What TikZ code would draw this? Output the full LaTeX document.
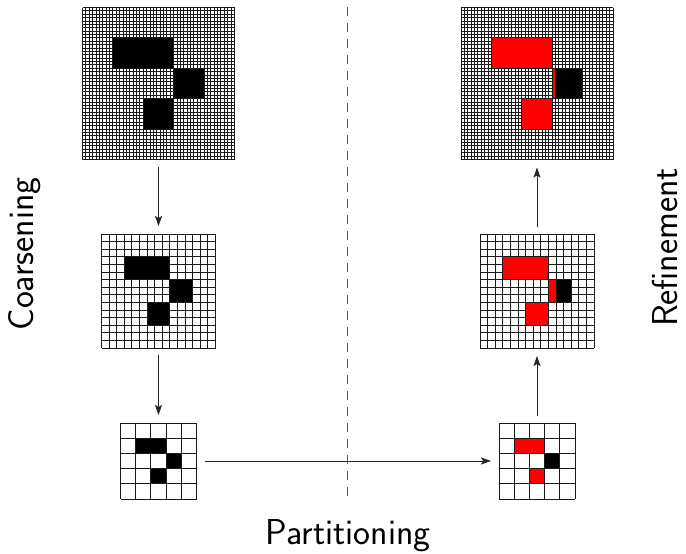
\documentclass[tikz,border=0pt]{standalone}
\usetikzlibrary{arrows.meta}
\tikzset{
  gridnode/.style={draw=none,inner sep=0pt,outer sep=0pt,minimum size=#1},
  gl/.style={line width=1pt,black!90},
  cellbox/.style={line width=1pt,draw=black!90},
  arr/.style={line width=0.9pt,black!85,-{Stealth[length=10pt,width=7pt,inset=2pt]},shorten <=7pt,shorten >=8pt},
  sep/.style={line width=1.3pt,black!65,dash pattern=on 9pt off 7pt},
  lbl/.style={inner sep=0pt,font=\fontsize{36}{42}\selectfont\sffamily}
}
% #1 name, #2 x0, #3 y0, #4 size, #5 n
\newcommand{\mygrid}[5]{%
  \node[gridnode=#4pt] (#1) at ({#2+#4/2},{#3+#4/2}) {};
  \foreach \i in {0,...,#5}{
    \draw[gl] ({#2+\i*#4/#5},#3) -- ({#2+\i*#4/#5},{#3+#4});
    \draw[gl] (#2,{#3+\i*#4/#5}) -- ({#2+#4},{#3+\i*#4/#5});
  }%
}
% #1 x0, #2 y0, #3 cell, #4 c0, #5 r0, #6 c1, #7 r1, #8 colour
\newcommand{\mycell}[8]{%
  \filldraw[cellbox,fill=#8] ({#1+#4*#3},{#2+#5*#3}) rectangle ({#1+#6*#3},{#2+#7*#3});
}
\begin{document}
\begin{tikzpicture}[x=1pt,y=-1pt]
\useasboundingbox (0,0) rectangle (686,554);
% left column
\mygrid{TL}{82.5}{7.5}{152}{45}
\mycell{82.5}{7.5}{3.37778}{9}{9}{27}{18}{black}
\mycell{82.5}{7.5}{3.37778}{27}{18}{36}{27}{black}
\mycell{82.5}{7.5}{3.37778}{18}{27}{27}{36}{black}
\mygrid{ML}{101.5}{234}{114}{15}
\mycell{101.5}{234}{7.6}{3}{3}{9}{6}{black}
\mycell{101.5}{234}{7.6}{9}{6}{12}{9}{black}
\mycell{101.5}{234}{7.6}{6}{9}{9}{12}{black}
\mygrid{BL}{120.5}{423}{76}{5}
\mycell{120.5}{423}{15.2}{1}{1}{3}{2}{black}
\mycell{120.5}{423}{15.2}{3}{2}{4}{3}{black}
\mycell{120.5}{423}{15.2}{2}{3}{3}{4}{black}
% right column
\mygrid{TR}{461}{7.5}{152}{45}
\mycell{461}{7.5}{3.37778}{9}{9}{27}{18}{red}
\mycell{461}{7.5}{3.37778}{27}{18}{28}{27}{red}
\mycell{461}{7.5}{3.37778}{28}{18}{36}{27}{black}
\mycell{461}{7.5}{3.37778}{18}{27}{27}{36}{red}
\mygrid{MR}{480}{234}{114}{15}
\mycell{480}{234}{7.6}{3}{3}{9}{6}{red}
\mycell{480}{234}{7.6}{9}{6}{10}{9}{red}
\mycell{480}{234}{7.6}{10}{6}{12}{9}{black}
\mycell{480}{234}{7.6}{6}{9}{9}{12}{red}
\mygrid{BR}{499}{423}{76}{5}
\mycell{499}{423}{15.2}{1}{1}{3}{2}{red}
\mycell{499}{423}{15.2}{3}{2}{4}{3}{black}
\mycell{499}{423}{15.2}{2}{3}{3}{4}{red}
% separator
\coordinate (sepTop) at (347.5,7);
\coordinate (sepBot) at (347.5,498);
\draw[sep] (sepTop) -- (sepBot);
% arrows
\draw[arr] (TL.south) -- (ML.north);
\draw[arr] (ML.south) -- (BL.north);
\draw[arr,shorten <=8.5pt] (BL.east) -- (BR.west);
\draw[arr] (BR.north) -- (MR.south);
\draw[arr] (MR.north) -- (TR.south);
% labels
\node[lbl,rotate=90,anchor=base] (coarse) at (34,254) {Coarsening};
\node[lbl,rotate=90,anchor=base] (refine) at (677,247.5) {Refinement};
\node[lbl,anchor=base] (part) at (348,544) {Partitioning};
\end{tikzpicture}
\end{document}
